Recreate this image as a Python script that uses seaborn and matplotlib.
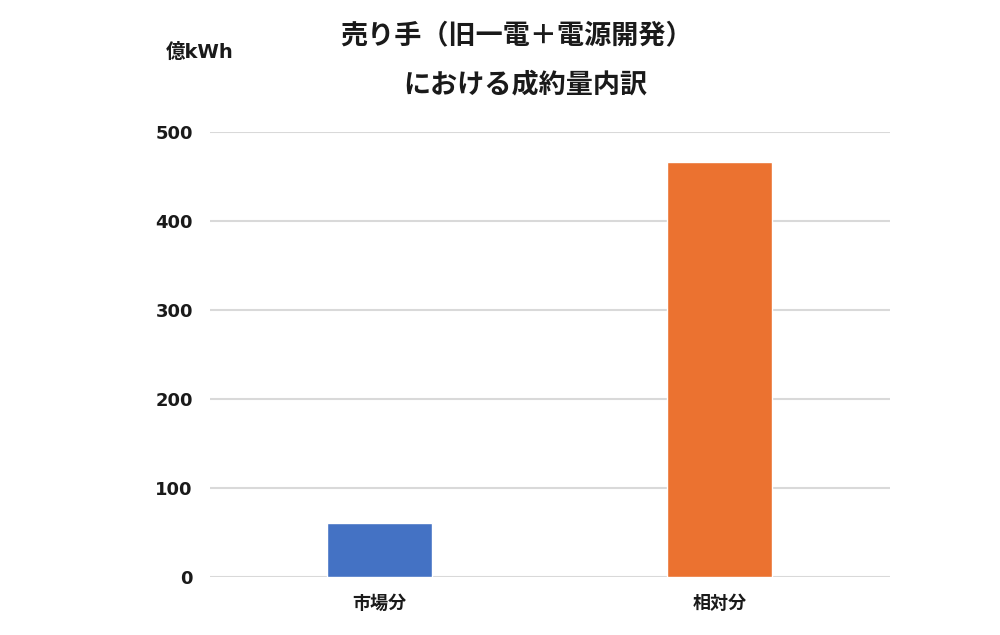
import matplotlib
matplotlib.use("Agg")
import matplotlib.pyplot as plt
import seaborn as sns
import pandas as pd

categories = ["市場分", "相対分"]
values = [61, 466]
colors = ["#4472C4", "#EB7230"]
yticks = [0, 100, 200, 300, 400, 500]
title_lines = ["売り手（旧一電＋電源開発）", "における成約量内訳"]
unit_label = "億kWh"

sns.set_theme(style="white")
plt.rcParams['font.family'] = ['Noto Sans CJK JP', 'DejaVu Sans']

df = pd.DataFrame({"cat": categories, "val": values})

fig = plt.figure(figsize=(10, 6.35), dpi=100)
ax = fig.add_axes([0.2095, 0.0913, 0.68, 0.7008])
sns.barplot(data=df, x="cat", y="val", hue="cat", palette=colors, width=0.31,
            legend=False, ax=ax, saturation=1, zorder=3)
ax.set_ylim(0, 500)
ax.set_xlim(-0.5, 1.5)
ax.set_yticks(yticks)
ax.set_yticklabels([str(t) for t in yticks], fontsize=13, fontweight='bold',
                   color='#1a1a1a', family=['DejaVu Sans'])
ax.set_xticks(range(len(categories)))
ax.set_xticklabels(categories, fontsize=13, fontweight='bold', color='#1a1a1a')
ax.tick_params(axis='y', length=0, pad=12)
ax.tick_params(axis='x', length=0, pad=12)
ax.set_xlabel("")
ax.set_ylabel("")
for s in ax.spines.values():
    s.set_visible(False)
ax.yaxis.grid(True, color='#d9d9d9', linewidth=1.5, zorder=0)
ax.set_axisbelow(True)

fig.text(0.517, 0.944, title_lines[0], ha='center', va='center', fontsize=19.5, fontweight='bold', color='#1a1a1a')
fig.text(0.525, 0.867, title_lines[1], ha='center', va='center', fontsize=19.5, fontweight='bold', color='#1a1a1a')
fig.text(0.2, 0.917, unit_label, ha='center', va='center', fontsize=14, fontweight='bold', color='#1a1a1a',
         family=['DejaVu Sans', 'Noto Sans CJK JP'])

fig.savefig("out.png", dpi=100, facecolor='white')
